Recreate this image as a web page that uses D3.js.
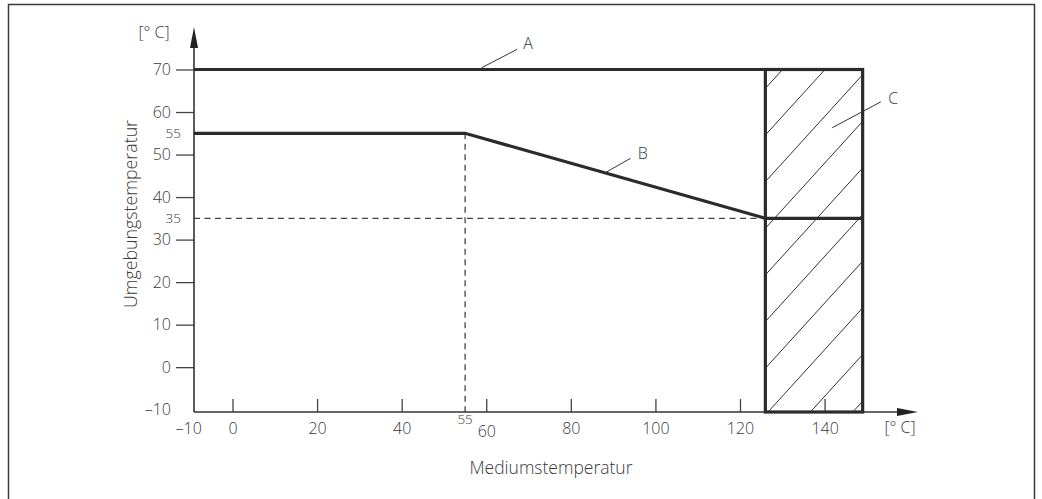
<!DOCTYPE html>
<html><head><meta charset="utf-8">
<script src="https://cdn.jsdelivr.net/npm/d3@7"></script>
<style>body{margin:0;background:#fff}svg{display:block}text{font-family:"Open Sans","Liberation Sans",Arial,sans-serif;font-weight:300;fill:#3a3a3a}</style>
</head><body>
<script>
const xTicks = [-10, 0, 20, 40, 60, 80, 100, 120, 140];
const yTicks = [-10, 0, 10, 20, 30, 40, 50, 60, 70];
const markX = [55];
const markY = [55, 35];
const curveA = [[-10, 70], [126, 70]];
const curveB = [[-10, 55], [55, 55], [126, 35]];
const zoneC = {x0: 126, x1: 149, y0: -10, y1: 70, split: 35};
const labels = [
  {t: "A", text: [69.9, 76.2], from: [67.3, 74.75], to: [58.9, 70.4]},
  {t: "B", text: [97.0, 50.3], from: [94.1, 49.1], to: [88.1, 45.7]},
  {t: "C", text: [156.2, 63.2], from: [153.3, 62.4], to: [141.8, 56.3]}
];

const W = 1042, H = 499;
const svg = d3.select("body").append("svg").attr("width", W).attr("height", H);
const x = d3.scaleLinear().domain([0, 120]).range([232.5, 740]);
const y = d3.scaleLinear().domain([-10, 70]).range([409.7, 69.5]);
const axX = 194, axY = 412;
const dark = "#2b2b2b";
const fmt = d => d < 0 ? "\u2013" + (-d) : d;

// frame
svg.append("path").attr("d", `M8.5,${H+2}V4.5H1034.5V${H+2}`).attr("fill","none").attr("stroke","#3a3a3a").attr("stroke-width",1.5);

// hatched zone
svg.append("clipPath").attr("id","cz").append("rect")
  .attr("x", x(zoneC.x0)).attr("y", y(zoneC.y1)).attr("width", x(zoneC.x1)-x(zoneC.x0)).attr("height", axY - y(zoneC.y1));
const hg = svg.append("g").attr("clip-path","url(#cz)");
const slope = 1.1, step = 42.4;
for (let k = -12; k < 4; k++) {
  const bx = 768 + k*step;
  hg.append("line").attr("x1", bx).attr("y1", axY).attr("x2", bx + 700/slope).attr("y2", axY-700)
    .attr("stroke","#333").attr("stroke-width",1);
}

// dashed guides
const dash = "6,4.5";
svg.append("line").attr("x1", x(markX[0])).attr("x2", x(markX[0])).attr("y1", y(55)).attr("y2", axY)
  .attr("stroke","#444").attr("stroke-width",1.3).attr("stroke-dasharray",dash);
svg.append("line").attr("x1", axX).attr("x2", x(zoneC.x0)).attr("y1", y(markY[1])).attr("y2", y(markY[1]))
  .attr("stroke","#444").attr("stroke-width",1.3).attr("stroke-dasharray",dash);

// axes
const yAxis = d3.axisLeft(y).tickValues(yTicks).tickSize(18).tickPadding(5).tickFormat(fmt);
const gy = svg.append("g").attr("transform", `translate(${axX},0)`).call(yAxis);
gy.select(".domain").remove();
gy.attr("font-family", null).attr("font-size", null);
gy.selectAll(".tick line").attr("stroke","#444").attr("stroke-width",1.3);
gy.selectAll(".tick").filter(d => d === -10).select("line").remove();
gy.selectAll(".tick text").attr("font-size",16).attr("fill","#3a3a3a");

const xAxis = d3.axisTop(x).tickValues(xTicks).tickSize(13).tickFormat(fmt);
const gx = svg.append("g").attr("transform", `translate(0,${axY})`).call(xAxis);
gx.select(".domain").remove();
gx.attr("font-family", null).attr("font-size", null);
gx.selectAll(".tick line").attr("stroke","#444").attr("stroke-width",1.3);
gx.selectAll(".tick").filter(d => d === -10).select("line").remove();
gx.selectAll(".tick text").attr("font-size",16).attr("y", d => d === 60 ? 25 : 22).attr("dy", 0).attr("fill","#3a3a3a");
gx.selectAll(".tick").filter(d => d === -10).select("text").attr("transform","translate(-2,0)");

// axis lines + arrows
svg.append("line").attr("x1", axX).attr("x2", axX).attr("y1", axY).attr("y2", 45).attr("stroke","#333").attr("stroke-width",1.6);
svg.append("path").attr("d", `M${axX},27L${axX+4},48L${axX-4},48Z`).attr("fill","#222");
svg.append("line").attr("x1", axX).attr("x2", 900).attr("y1", axY).attr("y2", axY).attr("stroke","#333").attr("stroke-width",1.6);
svg.append("path").attr("d", `M918,${axY}L897,${axY-4}L897,${axY+4}Z`).attr("fill","#222");

// small marker labels
svg.selectAll("text.my").data(markY).join("text").attr("class","my")
  .attr("x", 181).attr("y", d => y(d)).attr("dy","0.35em").attr("text-anchor","end").attr("font-size",13.5).text(d => d);
svg.selectAll("text.mx").data(markX).join("text").attr("class","mx")
  .attr("x", d => x(d)).attr("y", 424).attr("text-anchor","middle").attr("font-size",13.5).text(d => d);

// curves
const line = d3.line().x(d => d[0] === -10 ? axX : x(d[0])).y(d => y(d[1]));
svg.append("path").attr("d", line(curveA)).attr("fill","none").attr("stroke",dark).attr("stroke-width",3.2);
svg.append("path").attr("d", line(curveB)).attr("fill","none").attr("stroke",dark).attr("stroke-width",3.2).attr("stroke-linejoin","miter");

// zone box
svg.append("rect").attr("x", x(zoneC.x0)).attr("y", y(zoneC.y1)).attr("width", x(zoneC.x1)-x(zoneC.x0)).attr("height", axY - y(zoneC.y1))
  .attr("fill","none").attr("stroke",dark).attr("stroke-width",3.2);
svg.append("line").attr("x1", x(zoneC.x0)).attr("x2", x(zoneC.x1)).attr("y1", y(zoneC.split)).attr("y2", y(zoneC.split))
  .attr("stroke",dark).attr("stroke-width",3.2);

// leader labels
labels.forEach(l => {
  svg.append("line").attr("x1", x(l.from[0])).attr("y1", y(l.from[1])).attr("x2", x(l.to[0])).attr("y2", y(l.to[1]))
    .attr("stroke","#333").attr("stroke-width",1);
  svg.append("text").attr("x", x(l.text[0])).attr("y", y(l.text[1])).attr("dy","0.35em").attr("text-anchor","middle").attr("font-size",16).text(l.t);
});

// units & titles
svg.append("text").attr("x", 154).attr("y", 32).attr("dy","0.35em").attr("text-anchor","middle").attr("font-size",16).text("[° C]");
svg.append("text").attr("x", 900).attr("y", 427).attr("dy","0.35em").attr("text-anchor","middle").attr("font-size",16).text("[° C]");
svg.append("text").attr("x", 551).attr("y", 468).attr("dy","0.35em").attr("text-anchor","middle").attr("font-size",17.5).text("Mediumstemperatur");
svg.append("text").attr("transform","translate(131,214) rotate(-90)").attr("dy","0.35em").attr("text-anchor","middle").attr("font-size",17.8).text("Umgebungstemperatur");
</script>
</body></html>
